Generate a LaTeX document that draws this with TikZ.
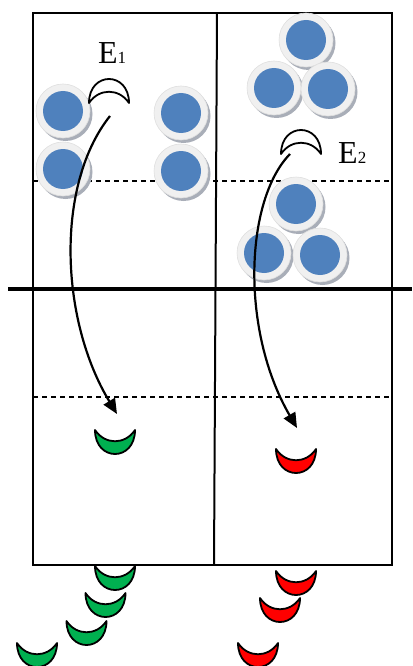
\documentclass[tikz,border=0pt]{standalone}
\usepackage{fontspec}
\setmainfont{Liberation Serif}
\usetikzlibrary{arrows.meta}
\definecolor{ballblue}{HTML}{4F81BD}
\definecolor{ringgray}{HTML}{F0F0F0}
\definecolor{shadowgray}{HTML}{A9AEB8}
\definecolor{cgreen}{HTML}{00B050}
\definecolor{cred}{HTML}{FF0000}
\tikzset{
  boxline/.style={line width=2pt},
  divline/.style={line width=4pt},
  dashline/.style={line width=1.3pt, dash pattern=on 5pt off 4pt},
  flow/.style={line width=2.2pt, -{Triangle[length=15pt,width=13pt]}},
  crescent/.style={draw=black, line width=1.8pt, line join=round},
  lbl/.style={inner sep=0pt, anchor=base west}
}
\newcommand{\myball}[2]{%
  \fill[shadowgray] (#1+2.5,#2+3) circle[radius=27pt];
  \fill[ringgray] (#1,#2) circle[radius=27pt];
  \draw[gray!25, line width=0.6pt] (#1,#2) circle[radius=27pt];
  \fill[ballblue] (#1,#2) circle[radius=20pt];
}
\newcommand{\mycres}[4]{%
  \begin{scope}[shift={(#1,#2)}, yscale=#4]
    \path[crescent, fill=#3] (-20,0) .. controls (-20,32) and (20,32) .. (20,0)
      .. controls (10,15) and (-10,15) .. (-20,0) -- cycle;
  \end{scope}
}
\begin{document}
\begin{tikzpicture}[x=1pt, y=-1pt]
\useasboundingbox (0,0) rectangle (412,666);
% box
\draw[boxline] (33,13) rectangle (392,565);
\draw[boxline] (217,13) -- (214,565);
\draw[dashline] (33,181) -- (392,181);
\draw[dashline] (33,397) -- (392,397);
\draw[divline] (8,289) -- (412,289);
% balls
\myball{63}{169}
\myball{63}{111}
\myball{181}{171}
\myball{181}{113}
\myball{306}{40}
\myball{274}{88}
\myball{328}{89}
\myball{296}{204}
\myball{264}{253}
\myball{320}{255}
% E crescents
\mycres{109}{103}{white}{-1}
\mycres{301}{154}{white}{-1}
\node[lbl] (e1) at (98,64) {\fontsize{32}{32}\selectfont E\fontsize{17}{17}\selectfont 1};
\node[lbl] (e2) at (338,163) {\fontsize{32}{32}\selectfont E\fontsize{17}{17}\selectfont 2};
% product crescents
\mycres{115}{430}{cgreen}{1}
\mycres{296}{449}{cred}{1}
\mycres{115}{566}{cgreen}{1}
\mycres{105.5}{593}{cgreen}{1}
\mycres{86.5}{621}{cgreen}{1}
\mycres{37}{643}{cgreen}{1}
\mycres{296}{571}{cred}{1}
\mycres{280}{598}{cred}{1}
\mycres{258}{643}{cred}{1}
% arrows
\coordinate (a1s) at (110,116);
\coordinate (a1e) at (117,414);
\coordinate (a2s) at (290,154);
\coordinate (a2e) at (297,428);
\draw[flow] (a1s) .. controls (55,185) and (60,320) .. (a1e);
\draw[flow] (a2s) .. controls (245,200) and (240,330) .. (a2e);
\end{tikzpicture}
\end{document}
